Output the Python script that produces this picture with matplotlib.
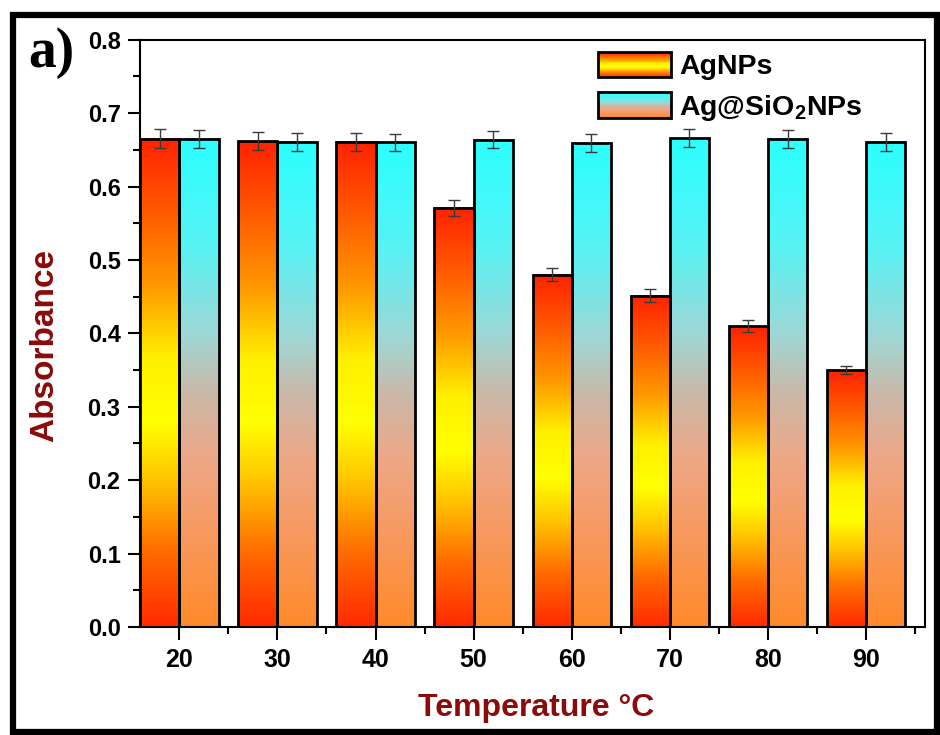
import numpy as np
import matplotlib
matplotlib.use("Agg")
import matplotlib.pyplot as plt
from matplotlib.colors import LinearSegmentedColormap
from matplotlib.patches import Rectangle
from matplotlib.legend_handler import HandlerBase
from matplotlib.ticker import MultipleLocator

# ---------------- data ----------------
temperatures = [20, 30, 40, 50, 60, 70, 80, 90]
agnps = [0.665, 0.662, 0.661, 0.571, 0.480, 0.451, 0.410, 0.350]
agnps_err = [0.013, 0.012, 0.012, 0.011, 0.009, 0.009, 0.008, 0.006]
agsio2 = [0.665, 0.661, 0.660, 0.664, 0.659, 0.666, 0.665, 0.661]
agsio2_err = [0.012, 0.012, 0.012, 0.012, 0.012, 0.012, 0.012, 0.012]
series_labels = ["AgNPs", r"Ag@SiO$_{\mathbf{2}}$NPs"]
xlabel = "Temperature \u00b0C"
ylabel = "Absorbance"

plt.rcParams['font.family'] = ['Liberation Sans', 'DejaVu Sans']
plt.rcParams['font.weight'] = 'bold'
plt.rcParams['mathtext.fontset'] = 'custom'
plt.rcParams['mathtext.rm'] = 'Liberation Sans:bold'
plt.rcParams['mathtext.bf'] = 'Liberation Sans:bold'

# gradients, fraction measured from bar bottom
cmap_ag = LinearSegmentedColormap.from_list("ag", [
    (0.00, "#ff2a00"), (0.15, "#ff6a00"), (0.30, "#ffc400"), (0.42, "#ffff00"),
    (0.55, "#fff000"), (0.70, "#ff9800"), (0.85, "#ff5a00"), (1.00, "#ff2200")])
cmap_si = LinearSegmentedColormap.from_list("si", [
    (0.00, "#ff8a2a"), (0.20, "#f79a62"), (0.35, "#eda888"), (0.48, "#c9b8a8"),
    (0.60, "#9ed8d6"), (0.78, "#58f2f4"), (1.00, "#2cffff")])

fig = plt.figure(figsize=(9.4, 7.35), dpi=100)
ax = fig.add_axes([0.149, 0.147, 0.835, 0.799])

width = 4.0
grad = np.linspace(0, 1, 256)


def gradient_bar(x0, h, cmap):
    img = cmap(grad)[:, None, :3]
    ax.imshow(img, origin='lower', extent=[x0, x0 + width, 0, h],
              aspect='auto', interpolation='bilinear', zorder=1)


x = np.array(temperatures, dtype=float)
for xi, h in zip(x, agnps):
    gradient_bar(xi - width, h, cmap_ag)
for xi, h in zip(x, agsio2):
    gradient_bar(xi, h, cmap_si)

ax.bar(x - width / 2, agnps, width, facecolor='none', edgecolor='black',
       linewidth=2.0, zorder=2)
ax.bar(x + width / 2, agsio2, width, facecolor='none', edgecolor='black',
       linewidth=2.0, zorder=2)
ax.errorbar(x - width / 2, agnps, yerr=agnps_err, fmt='none', ecolor='#3a3a3a',
            elinewidth=1.0, capsize=4.5, capthick=1.0, zorder=3)
ax.errorbar(x + width / 2, agsio2, yerr=agsio2_err, fmt='none', ecolor='#3a3a3a',
            elinewidth=1.0, capsize=4.5, capthick=1.0, zorder=3)

ax.set_xlim(16, 96)
ax.set_ylim(0, 0.8)
ax.set_xticks(temperatures)
ax.xaxis.set_minor_locator(MultipleLocator(5))
ax.yaxis.set_major_locator(MultipleLocator(0.1))
ax.yaxis.set_minor_locator(MultipleLocator(0.05))
ax.yaxis.set_major_formatter(matplotlib.ticker.FormatStrFormatter('%.1f'))
ax.tick_params(axis='both', which='major', direction='out', length=9, width=1.5,
               pad=5)
ax.tick_params(axis='y', which='major', labelsize=17)
ax.tick_params(axis='x', which='major', labelsize=18, pad=6)
ax.tick_params(axis='both', which='minor', direction='out', length=5, width=1.5)
for s in ax.spines.values():
    s.set_linewidth(1.5)

ax.set_xlabel(xlabel, fontsize=23, color='#8b0a0a', fontweight='bold')
ax.set_ylabel(ylabel, fontsize=24, color='#8b0a0a', fontweight='bold')
ax.yaxis.set_label_coords(-0.102, 0.48)
ax.xaxis.set_label_coords(0.504, -0.112)


class GradHandler(HandlerBase):
    def __init__(self, cmap):
        super().__init__()
        self.cmap = cmap

    def create_artists(self, legend, orig_handle, xdescent, ydescent, width,
                       height, fontsize, trans):
        arts = []
        n = 40
        for i in range(n):
            arts.append(Rectangle((-xdescent, -ydescent + height * i / n), width,
                                  height / n * 1.1,
                                  facecolor=self.cmap((i + 0.5) / n),
                                  edgecolor='none', transform=trans))
        arts.append(Rectangle((-xdescent, -ydescent), width, height,
                              facecolor='none', edgecolor='black', lw=2.0,
                              transform=trans))
        return arts


h1 = Rectangle((0, 0), 1, 1)
h2 = Rectangle((0, 0), 1, 1)
fig.legend([h1, h2], series_labels,
           handler_map={h1: GradHandler(cmap_ag), h2: GradHandler(cmap_si)},
           loc='upper left', bbox_to_anchor=(598 / 940, 1 - 52 / 735),
           bbox_transform=fig.transFigure, frameon=False,
           handlelength=2.55, handleheight=1.0, labelspacing=0.42,
           handletextpad=0.3, borderpad=0, borderaxespad=0,
           prop={'weight': 'bold', 'size': 20.5})

fig.text(0.030, 0.909, "a)", fontsize=40, fontweight='bold',
         family=['Liberation Serif', 'DejaVu Serif'], va='baseline', ha='left')

fig.patches.append(Rectangle((13 / 940, 3 / 735), 924 / 940, 717 / 735,
                             transform=fig.transFigure, facecolor='none',
                             edgecolor='black', linewidth=4.5, zorder=10))

fig.savefig("out.png", dpi=100)
